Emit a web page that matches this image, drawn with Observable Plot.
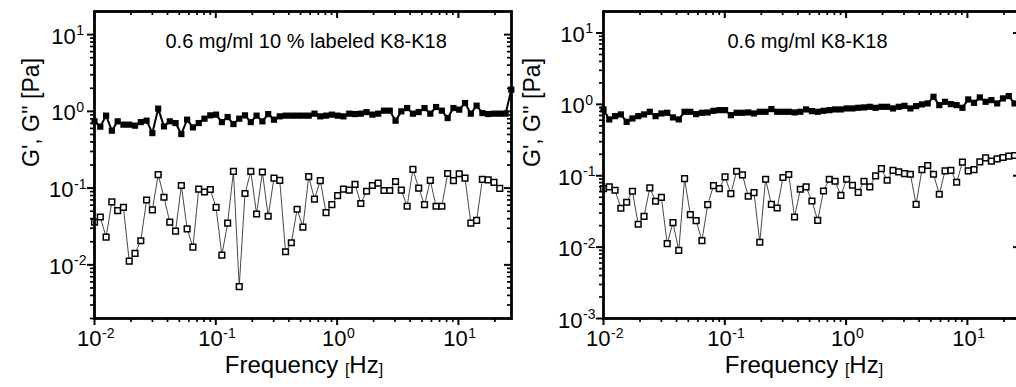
<!DOCTYPE html>
<html><head><meta charset="utf-8">
<script src="https://cdn.jsdelivr.net/npm/d3@7"></script>
<script src="https://cdn.jsdelivr.net/npm/@observablehq/plot@0.6"></script>
<style>
html,body{margin:0;padding:0;background:#fff;overflow:hidden;}
#fig{position:relative;width:1016px;height:387px;overflow:hidden;background:#fff;}
#fig > svg{position:absolute;top:0;}
</style></head><body><div id="fig"></div>
<script>
// Frequencies [Hz]
const freq = [
0.0100, 0.01116, 0.01246, 0.01390, 0.01552, 0.01732, 0.01933, 0.02158, 0.02408, 0.02688,
0.03000, 0.03350, 0.03739, 0.04174, 0.04658, 0.05199, 0.05803, 0.06477, 0.07229, 0.08069,
0.09007, 0.1005, 0.1122, 0.1252, 0.1398, 0.1560, 0.1741, 0.1943, 0.2169, 0.2421,
0.2703, 0.3017, 0.3367, 0.3758, 0.4195, 0.4682, 0.5226, 0.5833, 0.6511, 0.7267,
0.8111, 0.9053, 1.010, 1.128, 1.259, 1.405, 1.568, 1.750, 1.954, 2.181,
2.434, 2.717, 3.033, 3.385, 3.778, 4.217, 4.707, 5.254, 5.864, 6.545,
7.305, 8.154, 9.101, 10.16, 11.34, 12.66, 14.13, 15.77, 17.60, 19.64,
21.93, 24.47, 27.31];

// Left panel: 0.6 mg/ml 10 % labeled K8-K18
const gp1 = [
0.741, 0.632, 0.879, 0.560, 0.741, 0.671, 0.671, 0.651, 0.725, 0.756,
0.521, 1.084, 0.637, 0.741, 0.704, 0.506, 0.779, 0.618, 0.704, 0.803,
0.887, 0.906, 0.725, 0.843, 0.683, 0.803, 0.887, 0.725, 0.879, 0.741,
0.922, 0.779, 0.861, 0.879, 0.879, 0.879, 0.879, 0.879, 0.933, 0.861,
0.879, 0.906, 0.879, 0.861, 0.933, 0.922, 0.933, 0.979, 0.906, 0.933,
1.021, 1.021, 0.756, 1.000, 1.104, 0.933, 0.979, 1.104, 0.933, 1.138,
1.021, 0.818, 1.104, 1.052, 1.283, 0.933, 1.186, 0.950, 0.922, 0.933,
0.933, 0.933, 1.918];
const gpp1 = [
0.036, 0.042, 0.023, 0.066, 0.051, 0.056, 0.0112, 0.0141, 0.0206, 0.070,
0.052, 0.150, 0.076, 0.036, 0.0275, 0.108, 0.0295, 0.017, 0.097, 0.089,
0.096, 0.056, 0.0134, 0.035, 0.165, 0.0052, 0.085, 0.165, 0.046, 0.162,
0.043, 0.135, 0.126, 0.0148, 0.0194, 0.053, 0.031, 0.141, 0.072, 0.125,
0.048, 0.061, 0.080, 0.097, 0.094, 0.112, 0.063, 0.091, 0.108, 0.116,
0.093, 0.093, 0.122, 0.094, 0.058, 0.175, 0.100, 0.061, 0.126, 0.058,
0.058, 0.155, 0.125, 0.154, 0.135, 0.035, 0.038, 0.130, 0.128, 0.119,
0.099];

// Right panel: 0.6 mg/ml K8-K18
const gp2 = [
0.849, 0.615, 0.684, 0.723, 0.569, 0.635, 0.684, 0.723, 0.787, 0.684,
0.746, 0.762, 0.656, 0.615, 0.787, 0.787, 0.730, 0.762, 0.771, 0.812,
0.830, 0.830, 0.706, 0.762, 0.762, 0.771, 0.746, 0.787, 0.787, 0.858,
0.787, 0.787, 0.787, 0.771, 0.787, 0.850, 0.804, 0.787, 0.812, 0.830,
0.849, 0.849, 0.877, 0.877, 0.895, 0.906, 0.924, 0.895, 0.924, 0.924,
0.877, 0.924, 0.954, 0.877, 0.945, 0.998, 1.031, 1.276, 0.976, 1.086,
1.008, 0.976, 0.895, 1.173, 1.051, 1.251, 1.086, 1.147, 1.031, 1.212,
1.306, 1.031, 1.100];
const gpp2 = [
0.066, 0.070, 0.0626, 0.035, 0.0425, 0.0606, 0.0209, 0.027, 0.0675, 0.0439,
0.0499, 0.0112, 0.022, 0.0090, 0.0913, 0.0285, 0.0235, 0.0123, 0.0394, 0.0728,
0.066, 0.0962, 0.0562, 0.1156, 0.1027, 0.0516, 0.058, 0.0117, 0.0893, 0.0398,
0.0353, 0.0944, 0.104, 0.0264, 0.0646, 0.0697, 0.0443, 0.0237, 0.0612, 0.0893,
0.0837, 0.0532, 0.0893, 0.0736, 0.0586, 0.0837, 0.0697, 0.0994, 0.126, 0.0865,
0.119, 0.113, 0.107, 0.105, 0.0398, 0.122, 0.139, 0.105, 0.055, 0.117,
0.119, 0.081, 0.155, 0.117, 0.122, 0.156, 0.178, 0.160, 0.172, 0.180,
0.188, 0.192, 0.195];

// Ticks and labels
const xMajor = [0.01, 0.1, 1, 10];
const xExp = ["-2", "-1", "0", "1"];
const xMinor = [0.02,0.03,0.04,0.05,0.06,0.07,0.08,0.09,0.2,0.3,0.4,0.5,0.6,0.7,0.8,0.9,2,3,4,5,6,7,8,9,20];
const yMajor1 = [0.01, 0.1, 1, 10];
const yExp1 = ["-2", "-1", "0", "1"];
const yMajor2 = [0.001, 0.01, 0.1, 1, 10];
const yExp2 = ["-3", "-2", "-1", "0", "1"];
const yMinor = [0.002,0.003,0.004,0.005,0.006,0.007,0.008,0.009,0.02,0.03,0.04,0.05,0.06,0.07,0.08,0.09,
  0.2,0.3,0.4,0.5,0.6,0.7,0.8,0.9,2,3,4,5,6,7,8,9];
const title1 = "0.6 mg/ml 10 % labeled K8-K18";
const title2 = "0.6 mg/ml K8-K18";
const yTitle = "G', G'' [Pa]";
const xTitleParts = ["Frequency", "[", "Hz", "]"];

const FONT = '"Liberation Sans", Arial, sans-serif';
const ctx = document.createElement("canvas").getContext("2d");
function tw(s, size) { ctx.font = `${size}px "Liberation Sans"`; return ctx.measureText(s).width; }

function panel(o) {
  const W = 520, H = 387, mt = 11, mb = 69, ml = 94, mr = 9;
  const fw = W - ml - mr, fh = H - mt - mb;
  const rows = ys => freq.map((f, i) => ({f, v: ys[i]})).filter(d => d.v != null);
  const gpd = rows(o.gp), gppd = rows(o.gpp);
  const marks = [];
  // ticks
  marks.push(Plot.tickX(xMajor, {x: d => d, insetTop: fh, insetBottom: -7, strokeWidth: 2}));
  marks.push(Plot.tickX(xMinor, {x: d => d, insetTop: fh, insetBottom: -4, strokeWidth: 1.7}));
  marks.push(Plot.tickX(xMajor, {x: d => d, insetTop: 0, insetBottom: fh - 7, strokeWidth: 2}));
  marks.push(Plot.tickX(xMinor, {x: d => d, insetTop: 0, insetBottom: fh - 4, strokeWidth: 1.7}));
  marks.push(Plot.tickY(o.yMajor, {y: d => d, insetLeft: -7, insetRight: fw, strokeWidth: 2}));
  marks.push(Plot.tickY(yMinor, {y: d => d, insetLeft: -4, insetRight: fw, strokeWidth: 1.7}));
  marks.push(Plot.tickY(o.yMajor, {y: d => d, insetLeft: fw - 7, insetRight: 0, strokeWidth: 2}));
  marks.push(Plot.tickY(yMinor, {y: d => d, insetLeft: fw - 4, insetRight: 0, strokeWidth: 1.7}));
  // data
  marks.push(Plot.line(gppd, {x: "f", y: "v", stroke: "#333", strokeWidth: 0.9}));
  marks.push(Plot.dot(gppd, {x: "f", y: "v", symbol: "square", r: 3.2, fill: "white", stroke: "black", strokeWidth: 1.5}));
  marks.push(Plot.line(gpd, {x: "f", y: "v", stroke: "black", strokeWidth: 2}));
  marks.push(Plot.dot(gpd, {x: "f", y: "v", symbol: "square", r: 3.5, fill: "black", stroke: "none"}));
  marks.push(Plot.frame({stroke: "black", strokeWidth: 2.8}));
  // x tick labels
  xMajor.forEach((v, i) => {
    const e = xExp[i], w10 = tw("10", 22), we = tw(e, 14), s = -(w10 + we) / 2 + 1;
    marks.push(Plot.text([v], {x: d => d, frameAnchor: "bottom", text: () => "10", textAnchor: "start", dx: s, dy: 27, fontSize: 22}));
    marks.push(Plot.text([v], {x: d => d, frameAnchor: "bottom", text: () => e, textAnchor: "start", dx: s + w10 + 0.5, dy: 19, fontSize: 14}));
  });
  // y tick labels
  o.yMajor.forEach((v, i) => {
    const e = o.yExp[i], w10 = tw("10", 22), we = tw(e, 14), s = -27 - (w10 + we) / 2;
    marks.push(Plot.text([v], {y: d => d, frameAnchor: "left", text: () => "10", textAnchor: "start", dx: s, dy: 2, fontSize: 22}));
    marks.push(Plot.text([v], {y: d => d, frameAnchor: "left", text: () => e, textAnchor: "start", dx: s + w10 + 0.5, dy: -4, fontSize: 14}));
  });
  // annotation title
  marks.push(Plot.text([o.title], {frameAnchor: "top-left", text: d => d, textAnchor: "start", dx: o.titleDx, dy: 22, fontSize: 20}));
  // y title
  marks.push(Plot.text([yTitle], {frameAnchor: "left", text: d => d, rotate: -90, dx: o.yDx, dy: 2, fontSize: 23}));
  // x title with small brackets
  const sizes = [24, 16, 24, 16];
  const widths = xTitleParts.map((p, i) => tw(p, sizes[i]));
  const gap = tw(" ", 24);
  const total = widths.reduce((a, b) => a + b, 0) + gap;
  let cx = -total / 2 + o.xDx;
  xTitleParts.forEach((p, i) => {
    marks.push(Plot.text([p], {frameAnchor: "bottom", text: d => d, textAnchor: "start", dx: cx, dy: i % 2 ? 56 : 54, fontSize: sizes[i]}));
    cx += widths[i] + (i === 0 ? gap : 0);
  });
  return Plot.plot({
    width: W, height: H, marginTop: mt, marginBottom: mb, marginLeft: ml, marginRight: mr,
    x: {type: "log", domain: [0.01, 27.4], axis: null},
    y: {type: "log", domain: o.ydom, axis: null},
    style: {fontFamily: FONT, color: "black", background: "transparent", overflow: "visible"},
    marks
  });
}

const fig = document.getElementById("fig");
const p1 = panel({gp: gp1, gpp: gpp1, ydom: [0.002, 20], yMajor: yMajor1, yExp: yExp1, title: title1, titleDx: 71, yDx: -63, xDx: 1});
p1.style.left = "0px";
fig.append(p1);
const p2 = panel({gp: gp2, gpp: gpp2, ydom: [0.001, 20], yMajor: yMajor2, yExp: yExp2, title: title2, titleDx: 124, yDx: -71, xDx: -8});
p2.style.left = "509px";
fig.append(p2);
</script></body></html>
